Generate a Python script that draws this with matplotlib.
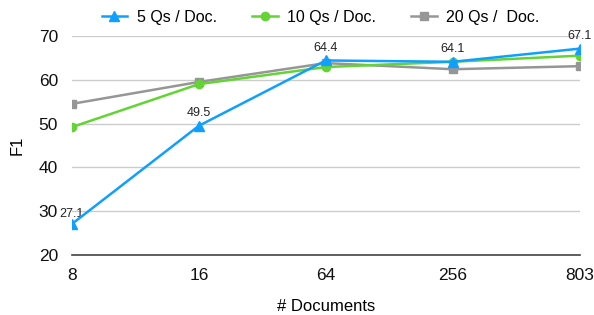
import matplotlib.pyplot as plt

plt.rcParams['font.family'] = ['Liberation Sans', 'DejaVu Sans']

docs = ['8', '16', '64', '256', '803']
f1_5q = [27.1, 49.5, 64.4, 64.1, 67.1]
f1_10q = [49.2, 59.0, 62.9, 64.1, 65.5]
f1_20q = [54.5, 59.5, 63.8, 62.4, 63.1]

x = list(range(len(docs)))

fig = plt.figure(figsize=(5.94, 3.15), dpi=100)
ax = fig.add_axes([0.121, 0.19, 0.855, 0.696])

ax.plot(x, f1_5q, color='#0fa0ff', lw=1.8, marker='^', ms=7, label='5 Qs / Doc.', zorder=5)
ax.plot(x, f1_10q, color='#62d434', lw=1.8, marker='o', ms=6, label='10 Qs / Doc.', zorder=4)
ax.plot(x, f1_20q, color='#969696', lw=1.8, marker='s', ms=6, label='20 Qs /  Doc.', zorder=3)

# value labels on the 5 Qs series
for i, v in enumerate(f1_5q):
    off = (0, 3) if i == 0 else (0, 5)
    ax.annotate(f'{v:.1f}', (x[i], v), xytext=off, textcoords='offset points',
                ha='center', va='bottom', fontsize=9, color='#222222')

ax.set_xlim(0, len(docs) - 1)
ax.set_ylim(20, 70)
ax.set_yticks([20, 30, 40, 50, 60, 70])
ax.set_xticks(x)
ax.set_xticklabels(docs)
ax.tick_params(axis='both', length=0, labelsize=12.5, colors='#111111')
ax.tick_params(axis='x', pad=9)
ax.tick_params(axis='y', pad=10)
ax.grid(axis='y', color='#cccccc', lw=1)
ax.set_axisbelow(True)
for s in ['top', 'right', 'left']:
    ax.spines[s].set_visible(False)
ax.spines['bottom'].set_color('#444444')
ax.spines['bottom'].set_linewidth(1.2)

ax.set_xlabel('# Documents', fontsize=12, labelpad=12)
ax.set_ylabel('F1', fontsize=12, labelpad=10)

ax.legend(loc='lower center', bbox_to_anchor=(0.49, 1.0), ncol=3, frameon=False,
          fontsize=11.5, handlelength=1.6, handletextpad=0.6, columnspacing=2.2,
          borderaxespad=0.3)

fig.savefig('out.png', dpi=100)
